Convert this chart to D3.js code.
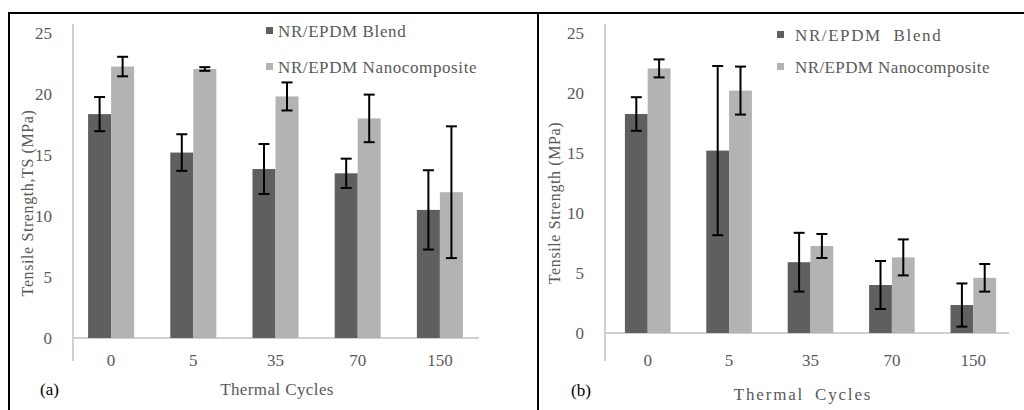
<!DOCTYPE html>
<html>
<head>
<meta charset="utf-8">
<script src="https://cdn.jsdelivr.net/npm/d3@7"></script>
<style>
  body { margin: 0; background: #fff; }
</style>
</head>
<body>
<svg id="chart" width="1024" height="410" font-family="'Liberation Serif', 'Times New Roman', Times, 'DejaVu Serif', serif"></svg>
<script>
// categories and series
var cycles = ["0", "5", "35", "70", "150"];
var series = ["NR/EPDM Blend", "NR/EPDM Nanocomposite"];
var yTicks = [0, 5, 10, 15, 20, 25];

// panel (a)
var blendA = [18.35, 15.2, 13.85, 13.5, 10.5];
var nanoA = [22.25, 22.05, 19.8, 18.0, 11.95];
var blendErrA = [1.4, 1.5, 2.05, 1.2, 3.25];
var nanoErrA = [0.8, 0.15, 1.15, 1.95, 5.4];

// panel (b)
var blendB = [18.25, 15.2, 5.9, 4.0, 2.33];
var nanoB = [22.05, 20.2, 7.25, 6.3, 4.6];
var blendErrB = [1.4, 7.05, 2.45, 2.0, 1.8];
var nanoErrB = [0.75, 2.0, 1.0, 1.5, 1.15];

var colors = ["#5f5f5f", "#b3b3b3"];
var svg = d3.select("#chart");

// frame lines
svg.append("line").attr("x1", 9).attr("x2", 1024).attr("y1", 13).attr("y2", 13)
  .attr("stroke", "#000").attr("stroke-width", 2);
svg.append("line").attr("x1", 9).attr("x2", 9).attr("y1", 12).attr("y2", 410)
  .attr("stroke", "#000").attr("stroke-width", 2);
svg.append("line").attr("x1", 538).attr("x2", 538).attr("y1", 12).attr("y2", 410)
  .attr("stroke", "#000").attr("stroke-width", 2);

function drawPanel(p) {
  var g = svg.append("g");
  var x = d3.scaleBand().domain(cycles).range(p.xRange).paddingInner(0.44).paddingOuter(0.22);
  var xs = d3.scaleBand().domain(series).range([0, x.bandwidth()]);
  var y = d3.scaleLinear().domain([0, 25]).range(p.yRange);

  // axis lines
  g.append("line").attr("x1", p.axisX).attr("x2", p.axisX).attr("y1", 24).attr("y2", 361)
    .attr("stroke", "#d0d0d0").attr("stroke-width", 2);
  g.append("line").attr("x1", p.axisX).attr("x2", p.axisEnd).attr("y1", y(0)).attr("y2", y(0))
    .attr("stroke", "#d0d0d0").attr("stroke-width", 2);

  // y tick labels
  g.selectAll(".yt").data(yTicks).enter().append("text")
    .attr("x", p.axisX - 21).attr("y", function(d) { return y(d); })
    .attr("dy", "0.35em").attr("text-anchor", "end")
    .attr("font-size", 17).attr("fill", "#595959")
    .text(function(d) { return d; });

  // x tick labels
  g.selectAll(".xt").data(cycles).enter().append("text")
    .attr("x", function(d) { return x(d) + x.bandwidth() / 2; }).attr("y", 366)
    .attr("text-anchor", "middle").attr("font-size", 17).attr("fill", "#595959")
    .text(function(d) { return d; });

  var vals = [p.blend, p.nano];
  var errs = [p.blendErr, p.nanoErr];
  for (var s = 0; s < series.length; s++) {
    var rows = cycles.map(function(c, i) { return { c: c, v: vals[s][i], e: errs[s][i] }; });
    var name = series[s];
    g.selectAll(".bar" + s).data(rows).enter().append("rect")
      .attr("x", function(d) { return x(d.c) + xs(name); })
      .attr("width", xs.bandwidth())
      .attr("y", function(d) { return y(d.v); })
      .attr("height", function(d) { return y(0) - y(d.v); })
      .attr("fill", colors[s]);
  }
  for (var s = 0; s < series.length; s++) {
    var rows = cycles.map(function(c, i) { return { c: c, v: vals[s][i], e: errs[s][i] }; });
    var name = series[s];
    var cx = function(d) { return x(d.c) + xs(name) + xs.bandwidth() / 2; };
    var eg = g.selectAll(".err" + s).data(rows).enter().append("g")
      .attr("stroke", "#000").attr("stroke-width", 2);
    eg.append("line").attr("x1", cx).attr("x2", cx)
      .attr("y1", function(d) { return y(d.v + d.e); })
      .attr("y2", function(d) { return y(d.v - d.e); });
    eg.append("line").attr("x1", function(d) { return cx(d) - 5.5; }).attr("x2", function(d) { return cx(d) + 5.5; })
      .attr("y1", function(d) { return y(d.v + d.e); }).attr("y2", function(d) { return y(d.v + d.e); });
    eg.append("line").attr("x1", function(d) { return cx(d) - 5.5; }).attr("x2", function(d) { return cx(d) + 5.5; })
      .attr("y1", function(d) { return y(d.v - d.e); }).attr("y2", function(d) { return y(d.v - d.e); });
  }

  // legend
  var lg = g.selectAll(".leg").data(series).enter().append("g")
    .attr("transform", function(d, i) { return "translate(" + p.legX + "," + p.legY[i] + ")"; });
  lg.append("rect").attr("x", 0).attr("y", -4).attr("width", 7).attr("height", 7)
    .attr("fill", function(d, i) { return colors[i]; });
  lg.append("text").attr("x", p.legTextDx).attr("dy", "0.35em").attr("font-size", 17)
    .attr("fill", "#595959")
    .attr("letter-spacing", function(d, i) { return p.legSpacing[i]; })
    .attr("word-spacing", function(d, i) { return p.legWordSpacing[i]; })
    .text(function(d) { return d; });

  // axis titles
  g.append("text").attr("transform", "translate(" + p.yTitleX + ",203) rotate(-90)")
    .attr("text-anchor", "middle").attr("dy", "0.35em").attr("font-size", 16)
    .attr("fill", "#595959").attr("letter-spacing", 0.6).text(p.yTitle);
  g.append("text").attr("x", p.xTitleX).attr("y", p.xTitleY)
    .attr("text-anchor", "middle").attr("font-size", 17).attr("fill", "#595959")
    .attr("letter-spacing", p.xTitleSpacing).attr("word-spacing", p.xTitleWordSpacing)
    .text(p.xTitle);
  g.append("text").attr("x", p.tagX).attr("y", p.tagY).attr("font-size", 17)
    .attr("fill", "#000").text(p.tag);
}

drawPanel({
  xRange: [70, 481], yRange: [338, 33], axisX: 73, axisEnd: 479,
  blend: blendA, nano: nanoA, blendErr: blendErrA, nanoErr: nanoErrA,
  legX: 266, legY: [31, 67], legTextDx: 12, legSpacing: [0.6, 0.6], legWordSpacing: [0, 0],
  yTitle: "Tensile Strength,TS (MPa)", yTitleX: 27,
  xTitle: "Thermal Cycles", xTitleX: 277, xTitleY: 395, xTitleSpacing: 0.4, xTitleWordSpacing: 0,
  tag: "(a)", tagX: 40, tagY: 395
});

drawPanel({
  xRange: [607, 1014], yRange: [333, 33], axisX: 605, axisEnd: 1009,
  blend: blendB, nano: nanoB, blendErr: blendErrB, nanoErr: nanoErrB,
  legX: 777, legY: [35, 67], legTextDx: 18, legSpacing: [1.6, 0.4], legWordSpacing: [6, 0],
  yTitle: "Tensile Strength (MPa)", yTitleX: 554,
  xTitle: "Thermal Cycles", xTitleX: 803, xTitleY: 400, xTitleSpacing: 1.8, xTitleWordSpacing: 5,
  tag: "(b)", tagX: 571, tagY: 396
});
</script>
</body>
</html>
